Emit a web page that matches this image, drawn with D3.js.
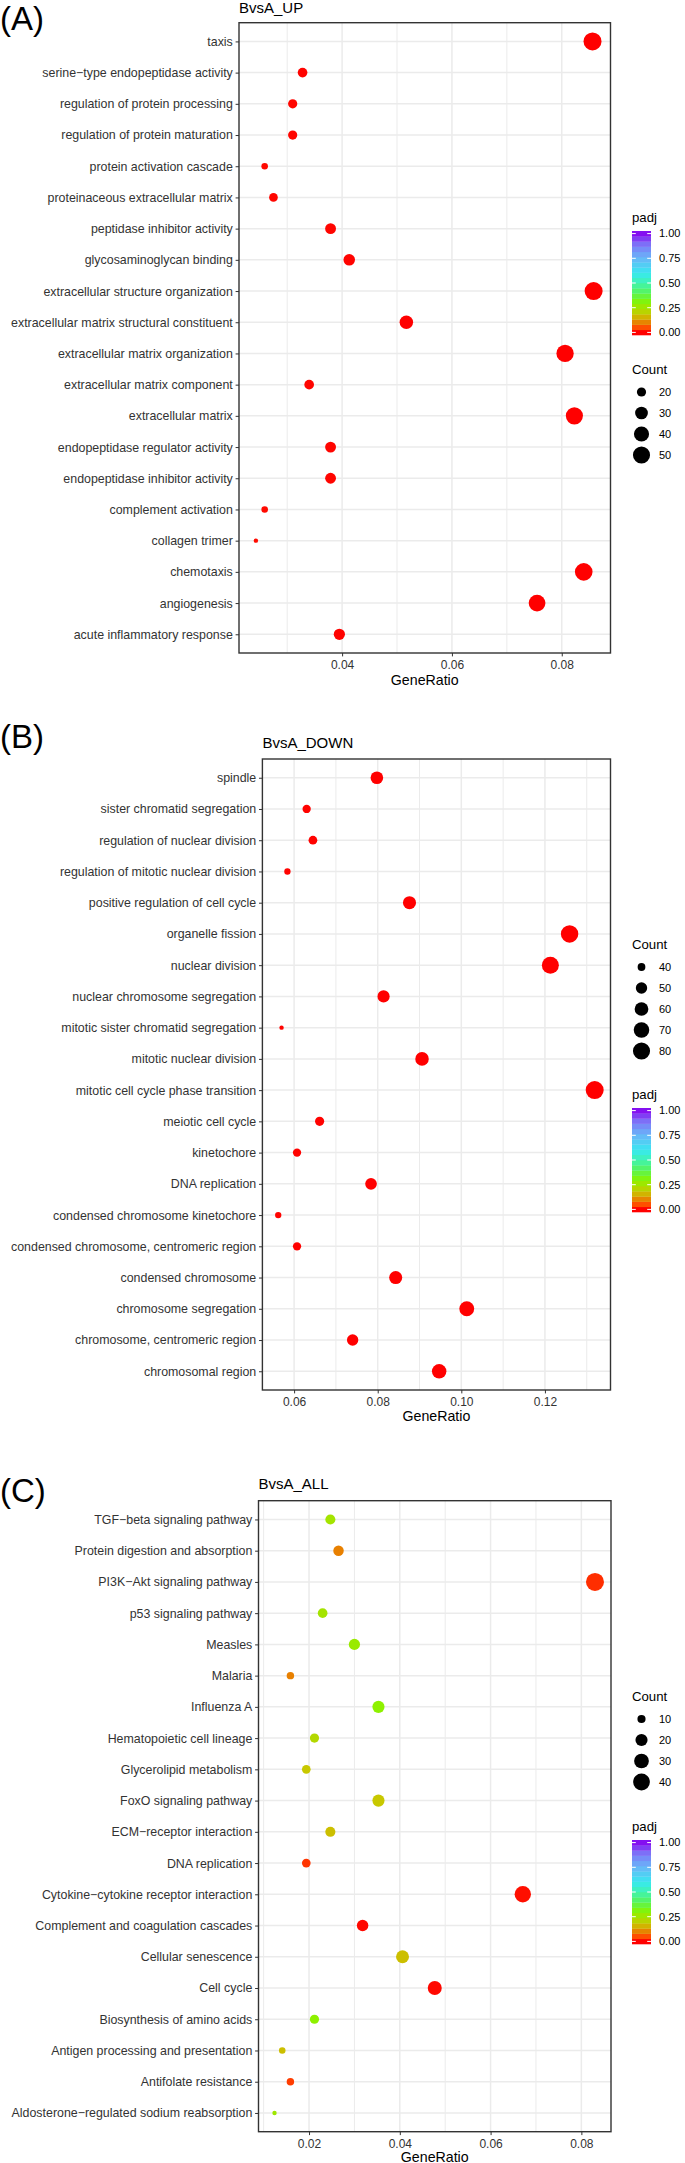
<!DOCTYPE html>
<html>
<head>
<meta charset="utf-8">
<script src="https://cdn.jsdelivr.net/npm/d3@7"></script>
<style>
  body { margin: 0; background: #fff; }
  svg { display: block; font-family: "Liberation Sans", Arial, Helvetica, sans-serif; }
</style>
</head>
<body>
<svg id="chart" width="685" height="2163"></svg>
<script>
// (A) BvsA_UP, listed top to bottom as shown
const upTerms = [
  'taxis', 'serine−type endopeptidase activity', 'regulation of protein processing',
  'regulation of protein maturation', 'protein activation cascade', 'proteinaceous extracellular matrix',
  'peptidase inhibitor activity', 'glycosaminoglycan binding', 'extracellular structure organization',
  'extracellular matrix structural constituent', 'extracellular matrix organization',
  'extracellular matrix component', 'extracellular matrix', 'endopeptidase regulator activity',
  'endopeptidase inhibitor activity', 'complement activation', 'collagen trimer', 'chemotaxis',
  'angiogenesis', 'acute inflammatory response'
]
const upRatio = [0.0856, 0.0328, 0.0310, 0.0310, 0.0259, 0.0275, 0.0379, 0.0413, 0.0858, 0.0517,
  0.0806, 0.0340, 0.0823, 0.0379, 0.0379, 0.0259, 0.0243, 0.0840, 0.0755, 0.0395]
const upCount = [55, 21, 20, 20, 16, 19, 24, 26, 55, 33, 51, 21, 50, 24, 24, 16, 15, 53, 48, 25]
const upPadj = [0.000, 0.002, 0.004, 0.004, 0.006, 0.004, 0.003, 0.002, 0.000, 0.000,
  0.000, 0.003, 0.000, 0.003, 0.003, 0.006, 0.007, 0.000, 0.000, 0.002]
const upCountBreaks = [20, 30, 40, 50]

// (B) BvsA_DOWN
const downTerms = [
  'spindle', 'sister chromatid segregation', 'regulation of nuclear division',
  'regulation of mitotic nuclear division', 'positive regulation of cell cycle', 'organelle fission',
  'nuclear division', 'nuclear chromosome segregation', 'mitotic sister chromatid segregation',
  'mitotic nuclear division', 'mitotic cell cycle phase transition', 'meiotic cell cycle',
  'kinetochore', 'DNA replication', 'condensed chromosome kinetochore',
  'condensed chromosome, centromeric region', 'condensed chromosome', 'chromosome segregation',
  'chromosome, centromeric region', 'chromosomal region'
]
const downRatio = [0.0798, 0.0630, 0.0645, 0.0584, 0.0876, 0.1259, 0.1213, 0.0814, 0.0570, 0.0906,
  0.1319, 0.0661, 0.0607, 0.0784, 0.0562, 0.0607, 0.0843, 0.1013, 0.0740, 0.0947]
const downCount = [55, 41, 42, 38, 57, 82, 79, 53, 37, 59, 86, 43, 41, 51, 38, 41, 57, 66, 50, 64]
const downPadj = [0.000, 0.001, 0.001, 0.002, 0.000, 0.000, 0.000, 0.000, 0.002, 0.000,
  0.000, 0.001, 0.001, 0.000, 0.002, 0.001, 0.000, 0.000, 0.000, 0.000]
const downCountBreaks = [40, 50, 60, 70, 80]

// (C) BvsA_ALL
const allTerms = [
  'TGF−beta signaling pathway', 'Protein digestion and absorption', 'PI3K−Akt signaling pathway',
  'p53 signaling pathway', 'Measles', 'Malaria', 'Influenza A', 'Hematopoietic cell lineage',
  'Glycerolipid metabolism', 'FoxO signaling pathway', 'ECM−receptor interaction', 'DNA replication',
  'Cytokine−cytokine receptor interaction', 'Complement and coagulation cascades',
  'Cellular senescence', 'Cell cycle', 'Biosynthesis of amino acids',
  'Antigen processing and presentation', 'Antifolate resistance',
  'Aldosterone−regulated sodium reabsorption'
]
const allRatio = [0.0247, 0.0265, 0.0830, 0.0230, 0.0300, 0.0159, 0.0353, 0.0212, 0.0194, 0.0353,
  0.0247, 0.0194, 0.0671, 0.0318, 0.0406, 0.0477, 0.0212, 0.0141, 0.0159, 0.0124]
const allCount = [14, 15, 47, 13, 17, 9, 20, 12, 11, 20, 14, 11, 38, 18, 23, 27, 12, 8, 9, 7]
const allPadj = [0.25, 0.10, 0.03, 0.25, 0.27, 0.10, 0.29, 0.22, 0.18, 0.18,
  0.17, 0.035, 0.01, 0.005, 0.17, 0.005, 0.29, 0.17, 0.04, 0.26]
const allCountBreaks = [10, 20, 30, 40]

const padjBreaks = [0, 0.25, 0.5, 0.75, 1]

// rainbow-like colour ramp of the padj colourbar
const padjColor = d3.scaleLinear()
  .domain([0, 0.05, 0.10, 0.18, 0.25, 0.30, 0.40, 0.50, 0.60, 0.75, 0.88, 1])
  .range(['#ff0000', '#ff4c00', '#e88000', '#c8c800', '#a4e400', '#88f400', '#58f458',
    '#40f4b0', '#38e8f0', '#68b8f8', '#7c7cf8', '#8410f0'])
  .clamp(true)

const panels = [
  {
    tag: '(A)', title: 'BvsA_UP', terms: upTerms, ratio: upRatio, count: upCount, padj: upPadj,
    countBreaks: upCountBreaks,
    box: { left: 239, right: 610.5, top: 22.7, bottom: 653 }, tagY: 30, titleY: 13, xTitleY: 685,
    padjY: 222, countY: 374
  },
  {
    tag: '(B)', title: 'BvsA_DOWN', terms: downTerms, ratio: downRatio, count: downCount, padj: downPadj,
    countBreaks: downCountBreaks,
    box: { left: 262.4, right: 610.5, top: 759, bottom: 1390 }, tagY: 748, titleY: 747.5, xTitleY: 1421,
    padjY: 1099, countY: 949
  },
  {
    tag: '(C)', title: 'BvsA_ALL', terms: allTerms, ratio: allRatio, count: allCount, padj: allPadj,
    countBreaks: allCountBreaks,
    box: { left: 258.5, right: 611, top: 1500.7, bottom: 2131.7 }, tagY: 1502, titleY: 1489, xTitleY: 2161.5,
    padjY: 1831, countY: 1701
  }
]

const svg = d3.select('#chart')
svg.append('rect').attr('width', 685).attr('height', 2163).attr('fill', '#fff')

const axisText = '#333'
const gridColor = '#ebebeb'
const legendX = 632

// ggplot style area scale: size grows with sqrt of the rescaled count
function sizeScale (counts) {
  const t = d3.scaleLinear().domain(d3.extent(counts)).range([0, 1]).clamp(true)
  const r = d3.scaleLinear().domain([0, 1]).range([2.2, 9])
  return (c) => r(Math.sqrt(t(c)))
}

function drawPanel (p) {
  const { left, right, top, bottom } = p.box
  const g = svg.append('g')
  const [lo, hi] = d3.extent(p.ratio)
  const pad = (hi - lo) * 0.05
  const x = d3.scaleLinear().domain([lo - pad, hi + pad]).range([left, right])
  const y = d3.scalePoint().domain(p.terms).range([top, bottom]).padding(0.6)
  const r = sizeScale(p.count)

  const major = x.ticks(4)
  const minor = x.ticks(8).filter((v) => !major.some((m) => Math.abs(m - v) < 1e-9))

  g.append('text')
    .attr('x', 0).attr('y', p.tagY)
    .attr('font-size', 33)
    .text(p.tag)

  g.append('text')
    .attr('x', left).attr('y', p.titleY)
    .attr('font-size', 15)
    .text(p.title)

  // grid
  g.selectAll('line.minor')
    .data(minor)
    .enter().append('line')
    .attr('x1', (d) => x(d)).attr('x2', (d) => x(d))
    .attr('y1', top).attr('y2', bottom)
    .attr('stroke', gridColor).attr('stroke-width', 1)
  g.selectAll('line.major')
    .data(major)
    .enter().append('line')
    .attr('x1', (d) => x(d)).attr('x2', (d) => x(d))
    .attr('y1', top).attr('y2', bottom)
    .attr('stroke', gridColor).attr('stroke-width', 1.5)
  g.selectAll('line.row')
    .data(p.terms)
    .enter().append('line')
    .attr('x1', left).attr('x2', right)
    .attr('y1', (d) => y(d)).attr('y2', (d) => y(d))
    .attr('stroke', gridColor).attr('stroke-width', 1.5)

  // points
  g.selectAll('circle.dot')
    .data(p.terms.map((t, i) => ({ term: t, ratio: p.ratio[i], count: p.count[i], padj: p.padj[i] })))
    .enter().append('circle')
    .attr('cx', (d) => x(d.ratio))
    .attr('cy', (d) => y(d.term))
    .attr('r', (d) => r(d.count))
    .attr('fill', (d) => padjColor(d.padj))

  g.append('rect')
    .attr('x', left).attr('y', top)
    .attr('width', right - left).attr('height', bottom - top)
    .attr('fill', 'none').attr('stroke', '#333').attr('stroke-width', 1.4)

  // axes
  const yAxis = g.append('g')
    .attr('transform', `translate(${left},0)`)
    .call(d3.axisLeft(y).tickSize(3.4).tickPadding(2.8))
  const xAxis = g.append('g')
    .attr('transform', `translate(0,${bottom})`)
    .call(d3.axisBottom(x).tickValues(major).tickFormat(d3.format('.2f')).tickSize(3.4).tickPadding(4.1))
  for (const a of [yAxis, xAxis]) {
    a.select('.domain').remove()
    a.selectAll('line').attr('stroke', '#333').attr('stroke-width', 1)
    a.selectAll('text').attr('fill', axisText)
      .attr('font-family', '"Liberation Sans", Arial, Helvetica, sans-serif')
  }
  yAxis.selectAll('text').attr('font-size', 12.4)
  xAxis.selectAll('text').attr('font-size', 12)

  g.append('text')
    .attr('x', (left + right) / 2).attr('y', p.xTitleY)
    .attr('text-anchor', 'middle')
    .attr('font-size', 14.2)
    .text('GeneRatio')

  drawColorbar(g, p.padjY)
  drawCountLegend(g, p.countY, p.countBreaks, r)
}

function drawColorbar (g, titleY) {
  const barTop = titleY + 9
  const barH = 104
  const barW = 19
  const nbin = 20
  const binH = barH / nbin
  g.append('text')
    .attr('x', legendX).attr('y', titleY)
    .attr('font-size', 13.2)
    .text('padj')
  g.selectAll('rect.bin')
    .data(d3.range(nbin))
    .enter().append('rect')
    .attr('x', legendX)
    .attr('y', (i) => barTop + barH - (i + 1) * binH)
    .attr('width', barW)
    .attr('height', binH + 0.3)
    .attr('fill', (i) => padjColor(i / (nbin - 1)))
  const v = d3.scaleLinear().domain([0, 1]).range([barTop + barH - binH / 2, barTop + binH / 2])
  const ticks = g.selectAll('g.cbtick')
    .data(padjBreaks)
    .enter().append('g')
  ticks.append('line')
    .attr('x1', legendX).attr('x2', legendX + barW / 5)
    .attr('y1', (d) => v(d)).attr('y2', (d) => v(d))
    .attr('stroke', '#fff').attr('stroke-width', 1)
  ticks.append('line')
    .attr('x1', legendX + barW - barW / 5).attr('x2', legendX + barW)
    .attr('y1', (d) => v(d)).attr('y2', (d) => v(d))
    .attr('stroke', '#fff').attr('stroke-width', 1)
  ticks.append('text')
    .attr('x', legendX + barW + 8)
    .attr('y', (d) => v(d))
    .attr('dy', '0.35em')
    .attr('font-size', 11)
    .text((d) => d3.format('.2f')(d))
}

function drawCountLegend (g, titleY, breaks, r) {
  g.append('text')
    .attr('x', legendX).attr('y', titleY)
    .attr('font-size', 13.2)
    .text('Count')
  const keyY = (i) => titleY + 18 + i * 21
  g.selectAll('circle.key')
    .data(breaks)
    .enter().append('circle')
    .attr('cx', legendX + 9.5)
    .attr('cy', (d, i) => keyY(i))
    .attr('r', (d) => r(d))
    .attr('fill', '#000')
  g.selectAll('text.keylab')
    .data(breaks)
    .enter().append('text')
    .attr('x', legendX + 27)
    .attr('y', (d, i) => keyY(i))
    .attr('dy', '0.35em')
    .attr('font-size', 11)
    .text((d) => d)
}

panels.forEach(drawPanel)
</script>
</body>
</html>
